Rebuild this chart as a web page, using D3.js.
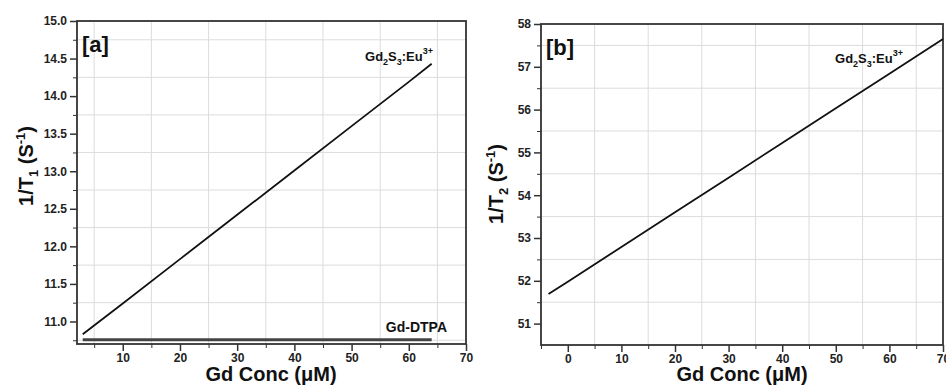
<!DOCTYPE html>
<html>
<head>
<meta charset="utf-8">
<script src="https://cdn.jsdelivr.net/npm/d3@7"></script>
<style>
  body { margin: 0; background: #fff; }
  svg { font-family: "Liberation Sans", Arial, sans-serif; font-weight: bold; }
  .grid line { stroke: #dcdcdc; stroke-width: 1; }
  .axis path, .axis line { stroke: #333; }
  .axis text { font-size: 12px; font-weight: bold; fill: #222; }
</style>
</head>
<body>
<svg id="chart" width="946" height="388"></svg>
<script>
// panel [a] : 1/T1 vs Gd concentration
const concA = [3, 10, 20, 30, 40, 50, 60, 64];
const r1Gd2S3 = [10.83, 11.24, 11.83, 12.42, 13.01, 13.60, 14.19, 14.43];
const concDTPA = [3, 64];
const r1DTPA = [10.755, 10.755];
const xTicksA = [10, 20, 30, 40, 50, 60, 70];
const yTicksA = [11.0, 11.5, 12.0, 12.5, 13.0, 13.5, 14.0, 14.5, 15.0];

// panel [b] : 1/T2 vs Gd concentration
const concB = [-3.6, 0, 10, 20, 30, 40, 50, 60, 70];
const r2Gd2S3 = [51.69, 51.98, 52.79, 53.60, 54.41, 55.22, 56.03, 56.84, 57.65];
const xTicksB = [0, 10, 20, 30, 40, 50, 60, 70];
const yTicksB = [51, 52, 53, 54, 55, 56, 57, 58];

const svg = d3.select("#chart");

svg.append("clipPath").attr("id", "clipA")
  .append("rect").attr("x", 0).attr("y", 0).attr("width", 476).attr("height", 388);

function panel(opt) {
  const g = svg.append("g");
  if (opt.clip) g.attr("clip-path", "url(#" + opt.clip + ")");
  const x = d3.scaleLinear().domain(opt.xDomain).range([opt.left, opt.right]);
  const y = d3.scaleLinear().domain(opt.yDomain).range([opt.bottom, opt.top]);

  // grid at the minor tick positions
  const grid = g.append("g").attr("class", "grid");
  grid.selectAll(".vx").data(opt.xGrid).enter().append("line")
    .attr("x1", d => x(d)).attr("x2", d => x(d))
    .attr("y1", opt.top).attr("y2", opt.bottom);
  grid.selectAll(".hy").data(opt.yGrid).enter().append("line")
    .attr("y1", d => y(d)).attr("y2", d => y(d))
    .attr("x1", opt.left).attr("x2", opt.right);

  // minor ticks
  g.append("g").attr("class", "axis")
    .attr("transform", "translate(0," + opt.bottom + ")")
    .call(d3.axisBottom(x).tickValues(opt.xGrid).tickSize(4).tickFormat(""))
    .call(s => s.select(".domain").remove());
  g.append("g").attr("class", "axis")
    .attr("transform", "translate(" + opt.left + ",0)")
    .call(d3.axisLeft(y).tickValues(opt.yGrid).tickSize(4).tickFormat(""))
    .call(s => s.select(".domain").remove());

  // major ticks
  const xa = g.append("g").attr("class", "axis")
    .attr("transform", "translate(0," + opt.bottom + ")")
    .call(d3.axisBottom(x).tickValues(opt.xTicks).tickSize(7).tickPadding(2).tickFormat(d3.format("d")));
  xa.select(".domain").remove();
  xa.selectAll("line").attr("stroke-width", 1.5);
  const ya = g.append("g").attr("class", "axis")
    .attr("transform", "translate(" + opt.left + ",0)")
    .call(d3.axisLeft(y).tickValues(opt.yTicks).tickSize(7).tickPadding(3).tickFormat(opt.yFormat));
  ya.select(".domain").remove();
  ya.selectAll("line").attr("stroke-width", 1.5);

  // frame
  g.append("rect")
    .attr("x", opt.left).attr("y", opt.top)
    .attr("width", opt.right - opt.left).attr("height", opt.bottom - opt.top)
    .attr("fill", "none").attr("stroke", "#333").attr("stroke-width", 1.8);

  const line = d3.line().x(d => x(d[0])).y(d => y(d[1]));
  opt.series.forEach(s => {
    g.append("path")
      .datum(d3.zip(s.x, s.y))
      .attr("d", line)
      .attr("fill", "none")
      .attr("stroke", s.color)
      .attr("stroke-width", s.width);
  });

  // panel tag
  g.append("text").attr("x", opt.left + 5).attr("y", opt.top + 31)
    .attr("font-size", 22).attr("fill", "#111").text(opt.tag);

  // x title
  g.append("text").attr("x", opt.xTitleX).attr("y", 381)
    .attr("text-anchor", "middle").attr("font-size", 20).attr("fill", "#111")
    .text("Gd Conc (\u03BCM)");

  // y title
  const yt = g.append("text")
    .attr("transform", "translate(" + opt.yTitleX + "," + opt.yTitleY + ") rotate(-90)")
    .attr("text-anchor", "middle").attr("font-size", 20).attr("fill", "#111");
  yt.append("tspan").text("1/T");
  yt.append("tspan").attr("font-size", 13).attr("dy", 5).text(opt.sub);
  yt.append("tspan").attr("dy", -5).text(" (S");
  yt.append("tspan").attr("font-size", 13).attr("dy", -8).text("-1");
  yt.append("tspan").attr("dy", 8).text(")");

  return { g, x, y };
}

function chemLabel(g, px, py) {
  const t = g.append("text").attr("x", px).attr("y", py)
    .attr("text-anchor", "end").attr("font-size", 13).attr("fill", "#111");
  t.append("tspan").text("Gd");
  t.append("tspan").attr("font-size", 9).attr("dy", 4).text("2");
  t.append("tspan").attr("dy", -4).text("S");
  t.append("tspan").attr("font-size", 9).attr("dy", 4).text("3");
  t.append("tspan").attr("dy", -4).text(":Eu");
  t.append("tspan").attr("font-size", 9).attr("dy", -7).text("3+");
}

const A = panel({
  clip: "clipA",
  left: 77, right: 466, top: 21, bottom: 344,
  xDomain: [2, 70], yDomain: [10.7, 15.0],
  xTicks: xTicksA, yTicks: yTicksA,
  xGrid: [5, 15, 25, 35, 45, 55, 65],
  yGrid: [10.75, 11.25, 11.75, 12.25, 12.75, 13.25, 13.75, 14.25, 14.75],
  yFormat: d3.format(".1f"),
  series: [
    { x: concA, y: r1Gd2S3, color: "#111", width: 1.8 },
    { x: concDTPA, y: r1DTPA, color: "#444", width: 3 }
  ],
  tag: "[a]", sub: "1",
  xTitleX: 271, yTitleX: 33, yTitleY: 166
});
chemLabel(A.g, 433, 61);
A.g.append("text").attr("x", 447).attr("y", 332)
  .attr("text-anchor", "end").attr("font-size", 14).attr("fill", "#111").text("Gd-DTPA");

const B = panel({
  left: 541, right: 943, top: 24, bottom: 345,
  xDomain: [-5, 70], yDomain: [50.5, 58],
  xTicks: xTicksB, yTicks: yTicksB,
  xGrid: [-5, 5, 15, 25, 35, 45, 55, 65],
  yGrid: [51.5, 52.5, 53.5, 54.5, 55.5, 56.5, 57.5],
  yFormat: d3.format("d"),
  series: [
    { x: concB, y: r2Gd2S3, color: "#111", width: 1.8 }
  ],
  tag: "[b]", sub: "2",
  xTitleX: 742, yTitleX: 503, yTitleY: 184
});
chemLabel(B.g, 903, 63);
</script>
</body>
</html>
